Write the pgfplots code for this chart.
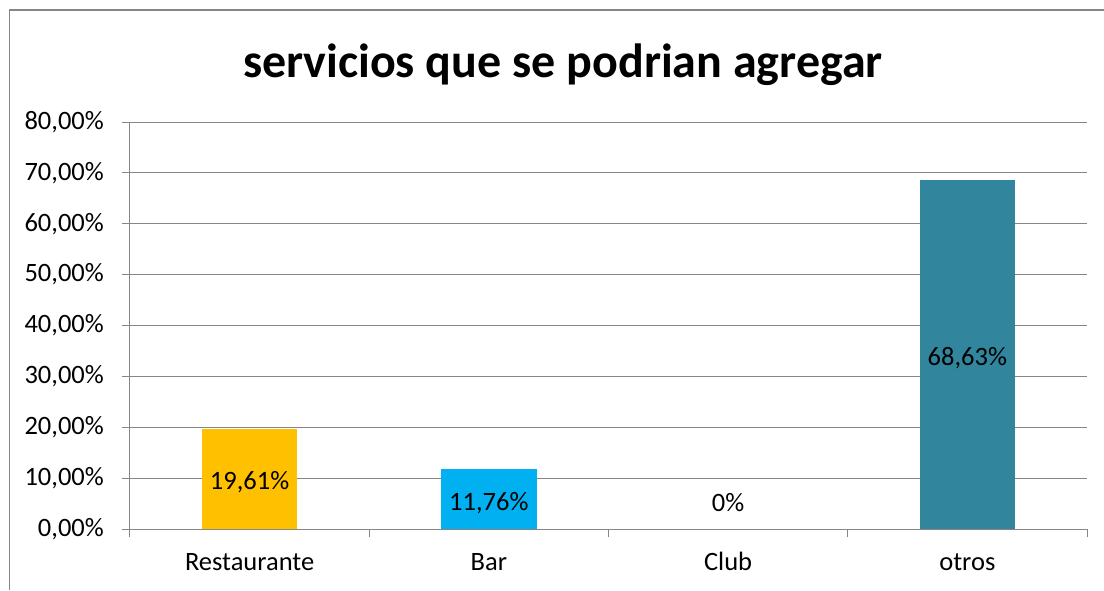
\documentclass[border=0pt]{standalone}
\usepackage{pgfplots}
\usepackage{pgfplotstable}
\pgfplotsset{compat=1.18}
\usepackage{fontspec}
\setmainfont{Carlito}
\definecolor{gridgray}{RGB}{134,134,134}
\definecolor{cRest}{RGB}{255,192,0}
\definecolor{cBar}{RGB}{0,176,240}
\definecolor{cOtros}{RGB}{49,133,156}
\pgfplotstableread{
x y label
0 9.3 {19,61\%}
1 5.0 {11,76\%}
2 5.1 {0\%}
3 33.6 {68,63\%}
}\labels
\begin{document}
\begin{tikzpicture}[x=1pt,y=1pt]
\useasboundingbox (0,0) rectangle (1104,590);
\draw[gridgray, line width=1.3pt] (9.5,0) -- (9.5,580) -- (1104,580);
\node[font=\fontsize{48}{56}\selectfont\bfseries, anchor=base, inner sep=0pt] at (563,512) {servicios que se podrian agregar};
\begin{axis}[
  at={(130pt,61pt)}, anchor=south west,
  scale only axis, width=957pt, height=407pt,
  xmin=-0.5, xmax=3.5, ymin=0, ymax=80,
  axis x line*=bottom, axis y line*=left,
  axis line style={gridgray, line width=1pt},
  ytick={0,10,...,80},
  yticklabels={{0,00\%},{10,00\%},{20,00\%},{30,00\%},{40,00\%},{50,00\%},{60,00\%},{70,00\%},{80,00\%}},
  ymajorgrids, major grid style={gridgray, line width=1pt},
  tick style={gridgray, line width=1pt},
  tick align=outside, major tick length=8pt,
  xtick={-0.5,0.5,1.5,2.5,3.5}, xticklabels={},
  extra x ticks={0,1,2,3}, extra x tick labels={Restaurante,Bar,Club,otros},
  extra x tick style={major tick length=0pt, grid=none},
  tick label style={font=\fontsize{26.5}{30}\selectfont, text=black},
  yticklabel style={anchor=east, inner sep=0pt, xshift=-18pt},
  xticklabel style={anchor=base, inner sep=0pt, yshift=-41pt},
  nodes near coords style={font=\fontsize{26.5}{30}\selectfont, text=black, anchor=center},
]
\addplot[ybar, bar width=0.4, bar shift=0pt, fill=cRest, draw=none] coordinates {(0,19.61)};
\addplot[ybar, bar width=0.4, bar shift=0pt, fill=cBar, draw=none] coordinates {(1,11.76)};
\addplot[ybar, bar width=0.4, bar shift=0pt, fill=cOtros, draw=none] coordinates {(3,68.63)};
\addplot[draw=none, mark=none, nodes near coords, point meta=explicit symbolic] table[x=x, y=y, meta=label] {\labels};
\end{axis}
\end{tikzpicture}
\end{document}
